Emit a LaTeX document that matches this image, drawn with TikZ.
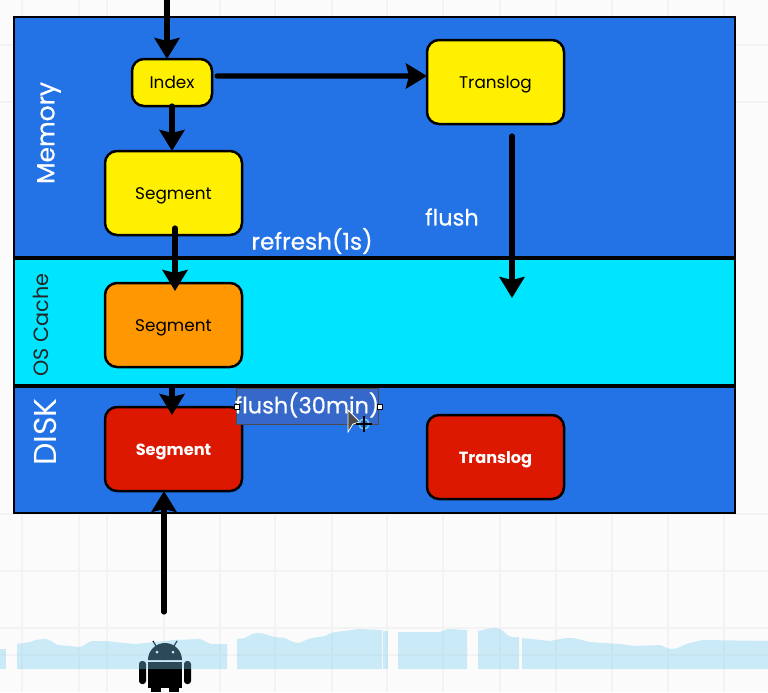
\documentclass[tikz,border=0pt]{standalone}
\usepackage{fontspec}
\setmainfont{Poppins}
\usetikzlibrary{arrows.meta}
\definecolor{panelblue}{HTML}{2473E6}
\definecolor{cachecyan}{HTML}{00E5FF}
\definecolor{boxyellow}{HTML}{FFF000}
\definecolor{boxorange}{HTML}{FF9800}
\definecolor{boxred}{HTML}{DD1800}
\definecolor{gridgray}{HTML}{F3F3F3}
\definecolor{pagegray}{HTML}{FBFBFB}
\definecolor{waveblue}{RGB}{120,205,240}
\definecolor{selblue}{HTML}{3568C8}
\tikzset{
	panel/.style={draw=black, line width=0.025cm, fill=panelblue, minimum width=7.21cm, outer sep=0pt, inner sep=0pt},
	store/.style={draw=black, line width=0.025cm, rounded corners=0.12cm, minimum width=1.37cm, minimum height=0.84cm, outer sep=0pt, inner sep=0pt, text height=0.14cm, text depth=0.02cm, font=\fontsize{4.8}{6}\selectfont},
	title/.style={text=white, font=\fontsize{6.6}{8}\selectfont, inner sep=0pt},
	flow/.style={line width=0.052cm, -{Stealth[length=0.21cm, width=0.25cm, inset=0.03cm]}, line cap=round},
}
\begin{document}
\begin{tikzpicture}
	%%%%% PAGE %%%%%
	\useasboundingbox (0, 0) rectangle (7.68, 6.92);
	\fill[pagegray] (0, 0) rectangle (7.68, 6.92);
	\foreach \gx in {0.22, 0.79, 1.07, 1.64, 2.2, 2.75, 3.32, 3.87, 4.43, 5.0, 5.56, 6.12, 6.68, 7.24} {
		\draw[gridgray, line width=0.02cm] (\gx, 0) -- (\gx, 6.92);
	}
	\foreach \gy in {0.37, 0.64, 1.21, 1.78, 5.9, 6.47} {
		\draw[gridgray, line width=0.02cm] (0, \gy) -- (7.68, \gy);
	}
	
	%%%%% ANDROID %%%%%
	\fill[black] (1.48, 0.32) arc (180:0:0.17) -- cycle;
	\fill[black] (1.48, 0.30) rectangle (1.82, 0.04);
	\fill[black] (1.51, 0.06) rectangle (1.61, 0);
	\fill[black] (1.69, 0.06) rectangle (1.79, 0);
	\fill[black, rounded corners=0.03cm] (1.39, 0.31) rectangle (1.46, 0.08);
	\fill[black, rounded corners=0.03cm] (1.84, 0.31) rectangle (1.91, 0.08);
	\draw[black, line width=0.012cm] (1.56, 0.46) -- (1.53, 0.51);
	\draw[black, line width=0.012cm] (1.74, 0.46) -- (1.77, 0.51);
	\fill[white] (1.57, 0.40) circle (0.015);
	\fill[white] (1.73, 0.40) circle (0.015);
	
	%%%%% WAVE %%%%%
	\begin{scope}[waveblue, opacity=0.36]
		\fill (0, 0.23) -- (0, 0.43) -- (0.06, 0.43) -- (0.06, 0.23) -- cycle;
		\fill (0.17, 0.23) -- (0.17, 0.48) -- (0.3, 0.5) to[out=20, in=180] (0.45, 0.53) to[out=0, in=160] (0.58, 0.47) -- (0.8, 0.45) to[out=10, in=190] (0.92, 0.51) -- (1.05, 0.51) -- (1.35, 0.48) -- (1.75, 0.52) -- (2.0, 0.53) to[out=-20, in=170] (2.12, 0.48) -- (2.27, 0.48) -- (2.27, 0.23) -- cycle;
		\fill (2.37, 0.23) -- (2.37, 0.53) -- (2.45, 0.54) to[out=30, in=180] (2.58, 0.59) to[out=0, in=170] (2.75, 0.55) -- (2.85, 0.54) to[out=-30, in=170] (2.98, 0.49) to[out=10, in=190] (3.12, 0.54) -- (3.25, 0.56) to[out=30, in=190] (3.35, 0.6) -- (3.6, 0.63) -- (3.82, 0.62) -- (3.82, 0.23) -- cycle;
		\fill (3.83, 0.23) -- (3.83, 0.61) -- (3.88, 0.61) -- (3.88, 0.23) -- cycle;
		\fill (3.98, 0.23) -- (3.98, 0.6) -- (4.4, 0.6) to[out=20, in=180] (4.5, 0.63) -- (4.67, 0.62) -- (4.67, 0.23) -- cycle;
		\fill (4.78, 0.23) -- (4.78, 0.61) to[out=10, in=180] (4.95, 0.64) to[out=0, in=130] (5.05, 0.59) to[out=-50, in=170] (5.12, 0.55) -- (5.19, 0.55) -- (5.19, 0.23) -- cycle;
		\fill (5.22, 0.23) -- (5.22, 0.54) -- (5.5, 0.51) to[out=10, in=180] (5.7, 0.54) to[out=0, in=170] (5.9, 0.5) -- (6.2, 0.48) -- (6.35, 0.46) -- (6.6, 0.47) to[out=-20, in=180] (6.72, 0.43) to[out=0, in=190] (6.9, 0.49) to[out=10, in=180] (7.05, 0.52) -- (7.68, 0.51) -- (7.68, 0.23) -- cycle;
	\end{scope}
	
	%%%%% PANELS %%%%%
	\node[panel, minimum height=2.4cm] (memory) at (3.745, 5.55) {};
	\node[panel, minimum height=1.26cm, fill=cachecyan] (oscache) at (3.745, 3.7) {};
	\node[panel, minimum height=1.26cm] (disk) at (3.745, 2.42) {};
	
	\node[title, rotate=90, font=\fontsize{7.1}{9}\selectfont] (memorylabel) at (0.49, 5.59) {\addfontfeature{FakeBold=0.5}Memory};
	\node[title, rotate=90, text=black!85, font=\fontsize{5.9}{8}\selectfont] (oscachelabel) at (0.41, 3.67) {OS Cache};
	\node[title, rotate=90, font=\fontsize{9}{11}\selectfont] (disklabel) at (0.45, 2.6) {DISK};
	
	%%%%% BOXES %%%%%
	\node[store, fill=boxyellow, minimum width=0.8cm, minimum height=0.47cm] (index) at (1.72, 6.095) {Index};
	\node[store, fill=boxyellow] (translogmem) at (4.955, 6.1) {Translog};
	\node[store, fill=boxyellow] (segmem) at (1.735, 4.99) {Segment};
	\node[store, fill=boxorange] (segcache) at (1.735, 3.67) {Segment};
	\node[store, fill=boxred, text=white, font=\fontsize{4.6}{6}\selectfont] (segdisk) at (1.735, 2.43) {\textbf{Segment}};
	\node[store, fill=boxred, text=white, font=\fontsize{4.6}{6}\selectfont] (translogdisk) at (4.955, 2.35) {\textbf{Translog}};
	
	%%%%% LABELS %%%%%
	\node[title, font=\fontsize{6.6}{8}\selectfont] (refreshlabel) at (3.12, 4.51) {\addfontfeature{FakeBold=0.6}refresh(1s)};
	\node[title, font=\fontsize{6.4}{8}\selectfont] (flushlabel) at (4.52, 4.75) {\addfontfeature{FakeBold=0.6}flush};
	
	%%%%% SELECTION %%%%%
	\fill[selblue] (2.36, 2.68) rectangle (3.78, 3.04);
	\draw[black!70, line width=0.01cm] (2.36, 2.68) rectangle (3.78, 3.04);
	\node[title, font=\fontsize{6.4}{8}\selectfont] (flushdisklabel) at (3.07, 2.87) {\addfontfeature{FakeBold=0.5}flush(30min)};
	\draw[fill=white, line width=0.008cm] (2.34, 2.83) rectangle (2.39, 2.88);
	\draw[fill=white, line width=0.008cm] (3.77, 2.83) rectangle (3.82, 2.88);
	\draw[fill=black!70, draw=white, line width=0.008cm] (3.48, 2.82) -- (3.48, 2.6) -- (3.53, 2.68) -- (3.6, 2.7) -- cycle;
	\draw[cyan!60, line width=0.015cm] (3.64, 2.68) circle (0.05);
	\draw[black, line width=0.012cm] (3.56, 2.68) -- (3.72, 2.68);
	\draw[black, line width=0.012cm] (3.64, 2.6) -- (3.64, 2.76);
	
	%%%%% ARROWS %%%%%
	\coordinate (inflow) at (1.67, 7);
	\coordinate (flushstart) at (5.12, 5.56);
	\coordinate (flushend) at (5.12, 3.94);
	\coordinate (androidtop) at (1.64, 0.8);
	
	\draw[flow] (inflow) -- (inflow |- index.north);
	\draw[flow] (index.south) -- (index.south |- segmem.north);
	\draw[flow, shorten <=0.05cm] ([yshift=0.065cm]index.east) -- ([yshift=0.06cm]translogmem.west);
	\draw[flow, shorten <=-0.07cm, shorten >=-0.08cm] ([xshift=0.015cm]segmem.south) -- ([xshift=0.015cm]segcache.north);
	\draw[flow] (flushstart) -- (flushend);
	\draw[flow, shorten <=0.21cm, shorten >=-0.08cm] ([xshift=-0.015cm]segcache.south) -- ([xshift=-0.015cm]segdisk.north);
	\draw[flow] (androidtop) -- (androidtop |- segdisk.south);
	
	%%%%% END %%%%%
\end{tikzpicture}
\end{document}
